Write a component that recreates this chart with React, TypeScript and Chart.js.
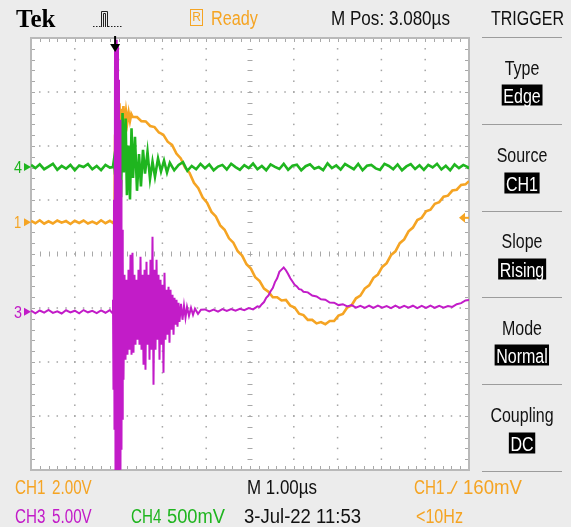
import React, { useEffect, useRef } from "react";
import { Chart, registerables } from "chart.js";

Chart.register(...registerables);

// Horizontal window: 1.00 µs/div, 10 divisions, centre at M Pos 3.080 µs after the trigger
const TIME_MIN = -1.92;
const TIME_MAX = 8.08;

// Vertical settings per channel: volts per division and ground position in divisions from centre
const CH1_SCALE = 2.0;
const CH1_OFFSET = 0.59;
const CH3_SCALE = 5.0;
const CH3_OFFSET = -1.07;
const CH4_SCALE = 0.5;
const CH4_OFFSET = 1.61;
const TRIGGER_LEVEL = 0.16; // volts on CH1

// CH1 (orange)
const ch1Time = [
  -1.92, -1.82, -1.72, -1.62, -1.52, -1.42, -1.32, -1.22, -1.12, -1.02, -0.92, -0.82, -0.72, -0.62, -0.52, -0.42, -0.32, -0.22, -0.12,
  -0.05, -0.02, -0.01, 0, 0.01, 0.025, 0.04, 0.055, 0.07, 0.085, 0.1, 0.12, 0.14, 0.16, 0.19, 0.22, 0.25, 0.28, 0.31, 0.34, 0.37,
  0.4, 0.5, 0.6, 0.7, 0.8, 0.9, 1.0, 1.1, 1.2, 1.3, 1.4, 1.5, 1.6, 1.7, 1.8, 1.9, 2.0, 2.1, 2.2, 2.3, 2.4, 2.5, 2.6, 2.7, 2.8, 2.9,
  3.0, 3.1, 3.2, 3.3, 3.4, 3.5, 3.6, 3.7, 3.8, 3.9, 4.0, 4.1, 4.2, 4.3, 4.4, 4.5, 4.6, 4.7, 4.8, 4.9, 5.0, 5.1, 5.2, 5.3, 5.4, 5.5,
  5.6, 5.7, 5.8, 5.9, 6.0, 6.1, 6.2, 6.3, 6.4, 6.5, 6.6, 6.7, 6.8, 6.9, 7.0, 7.1, 7.2, 7.3, 7.4, 7.5, 7.6, 7.7, 7.8, 7.9, 8.0, 8.08,
];
const ch1Volts = [
  0.05, -0.04, 0.07, -0.06, 0.03, -0.05, 0.06, -0.02, 0.04, -0.07, 0.05, -0.03, 0.06, -0.05, 0.02, -0.06, 0.07, -0.04, 0.05,
  -0.03, 0.06, 0.9, 3.2, 4.6, 3.5, 4.5, 3.3, 4.3, 3.2, 4.4, 3.4, 4.2, 3.5, 4.3, 3.6, 4.1, 3.7, 4.05, 3.75, 4.0,
  3.9, 3.89, 3.74, 3.73, 3.56, 3.52, 3.32, 3.24, 2.98, 2.86, 2.54, 2.36, 2.01, 1.82, 1.46, 1.26, 0.91, 0.72, 0.38, 0.21, -0.12, -0.28, -0.6, -0.76, -1.08, -1.24,
  -1.56, -1.72, -2.04, -2.18, -2.46, -2.58, -2.78, -2.78, -2.9, -2.88, -3.09, -3.16, -3.39, -3.44, -3.62, -3.62, -3.75, -3.7, -3.78, -3.66, -3.66, -3.46, -3.4, -3.16, -3.08, -2.82,
  -2.72, -2.46, -2.34, -2.06, -1.94, -1.66, -1.52, -1.22, -1.08, -0.78, -0.64, -0.34, -0.2, 0.08, 0.16, 0.4, 0.46, 0.68, 0.74, 0.94, 0.98, 1.17, 1.2, 1.38, 1.4, 1.52,
];

// CH4 (green)
const ch4Time = [
  -1.92, -1.82, -1.72, -1.62, -1.52, -1.42, -1.32, -1.22, -1.12, -1.02, -0.92, -0.82, -0.72, -0.62, -0.52, -0.42, -0.32, -0.22, -0.12,
  -0.05, -0.025, 0, 0.03, 0.065, 0.1, 0.135, 0.17, 0.2, 0.24, 0.27, 0.305, 0.34, 0.375, 0.41, 0.454, 0.5, 0.546, 0.59, 0.637, 0.683,
  0.74, 0.797, 0.854, 0.91, 0.98, 1.048, 1.117, 1.185,
  1.25, 1.35, 1.45, 1.55, 1.65, 1.75, 1.85, 1.95, 2.05, 2.15, 2.25, 2.35, 2.45, 2.55, 2.65, 2.75, 2.85, 2.95, 3.05, 3.15, 3.25, 3.35,
  3.45, 3.55, 3.65, 3.75, 3.85, 3.95, 4.05, 4.15, 4.25, 4.35, 4.45, 4.55, 4.65, 4.75, 4.85, 4.95, 5.05, 5.15, 5.25, 5.35, 5.45, 5.55,
  5.65, 5.75, 5.85, 5.95, 6.05, 6.15, 6.25, 6.35, 6.45, 6.55, 6.65, 6.75, 6.85, 6.95, 7.05, 7.15, 7.25, 7.35, 7.45, 7.55, 7.65, 7.75,
  7.85, 7.95, 8.05, 8.08,
];
const ch4Volts = [
  0.02, -0.01, 0.025, -0.02, 0.005, 0.03, -0.025, 0.01, -0.015, 0.02, -0.03, 0.015, 0.0, 0.028, -0.02, 0.01, -0.028, 0.02, -0.005,
  0.0, 0.07, -0.07, 0.26, -0.12, 0.4, -0.28, 0.5, -0.05, 0.45, -0.26, 0.2, -0.3, 0.36, -0.1, 0.28, -0.22, 0.12, -0.18, 0.16, -0.06,
  0.14, -0.11, 0.05, -0.09, 0.08, -0.04, 0.06, -0.05,
  0.04, -0.03, 0.02, 0.045, -0.035, 0.01, -0.02, 0.03, -0.01, 0.025, -0.03, 0.005, 0.02, -0.022, 0.03, 0.0, -0.025, 0.018, -0.01, 0.032,
  -0.02, 0.01, -0.03, 0.024, 0.002, -0.018, 0.03, -0.026, 0.012, 0.022, -0.03, 0.008, 0.026, -0.015, 0.0, -0.028, 0.035, -0.01, 0.015, -0.024,
  0.028, 0.004, -0.02, 0.03, -0.03, 0.012, 0.02, -0.012, -0.026, 0.03, 0.01, -0.02, 0.024, -0.03, 0.006, 0.028, -0.018, 0.016, -0.026, 0.02,
  -0.004, 0.03, -0.022, 0.012, -0.03, 0.024, -0.01, 0.02, 0.0, -0.015,
];

// CH3 (magenta)
const ch3Time = [
  -1.92, -1.82, -1.72, -1.62, -1.52, -1.42, -1.32, -1.22, -1.12, -1.02, -0.92, -0.82, -0.72, -0.62, -0.52, -0.42, -0.32, -0.22, -0.12, -0.07,
  -0.048, -0.037, -0.025, -0.014, -0.002, 0.009, 0.021, 0.032, 0.043, 0.055, 0.066, 0.078, 0.089, 0.1, 0.112, 0.123, 0.135, 0.146, 0.158, 0.169,
  0.18, 0.192, 0.215, 0.238, 0.26, 0.283, 0.306, 0.329, 0.352, 0.375, 0.397, 0.42, 0.443, 0.466, 0.489, 0.512, 0.534, 0.557, 0.58, 0.603,
  0.626, 0.649, 0.672, 0.694, 0.717, 0.74, 0.763, 0.786, 0.808, 0.831, 0.854, 0.877, 0.9, 0.923, 0.946, 0.968, 0.991, 1.014, 1.037, 1.06,
  1.082, 1.105, 1.128, 1.151, 1.174, 1.197, 1.22, 1.242, 1.265, 1.288, 1.311, 1.334, 1.356, 1.379, 1.402, 1.425, 1.448, 1.47, 1.505, 1.539,
  1.573, 1.607, 1.642, 1.687, 1.733, 1.779, 1.824, 1.893, 1.961,
  2.05, 2.15, 2.25, 2.35, 2.45, 2.55, 2.65, 2.75, 2.85, 2.95, 3.05, 3.15, 3.25, 3.3, 3.35, 3.4, 3.45, 3.5, 3.55, 3.6, 3.65, 3.7, 3.75,
  3.8, 3.85, 3.9, 3.95, 4.0, 4.05, 4.1, 4.15, 4.2, 4.25, 4.3, 4.4, 4.5, 4.6, 4.7, 4.8, 4.9, 5.0, 5.1, 5.2, 5.3, 5.4, 5.5, 5.6, 5.7,
  5.8, 5.9, 6.0, 6.1, 6.2, 6.3, 6.4, 6.5, 6.6, 6.7, 6.8, 6.9, 7.0, 7.1, 7.2, 7.3, 7.4, 7.5, 7.6, 7.7, 7.8, 7.9, 8.0, 8.08,
];
const ch3Volts = [
  0.1, -0.15, 0.12, -0.08, 0.18, -0.1, 0.05, -0.16, 0.14, -0.06, 0.1, -0.14, 0.16, -0.05, 0.08, -0.12, 0.12, -0.09, 0.15, -0.1,
  1.11, -7.22, 10.37, -10.93, 24.72, -15.56, 25.19, -15.56, 23.34, -15.56, 24.72, -15.56, 21.48, -15.56, 17.78, -14.63, 12.22, -12.78, 7.59, -10.0,
  4.82, -6.3, 3.43, -4.44, 2.96, -3.98, 3.89, -3.52, 5.28, -3.98, 5.46, -3.8, 3.43, -3.06, 2.96, -2.59, 3.89, -3.06, 5.09, -3.52,
  3.43, -4.91, 3.89, -5.37, 4.63, -3.06, 3.43, -4.44, 4.82, -3.52, 6.95, -6.76, 3.89, -3.52, 4.82, -2.59, 3.43, -4.44, 2.96, -3.06,
  2.5, -5.65, 3.61, -2.59, 2.04, -2.13, 2.32, -2.87, 2.04, -1.67, 1.57, -2.13, 1.3, -1.2, 1.11, -1.39, 0.83, -0.93, 0.74, -0.74,
  0.56, -0.56, 0.46, -0.37, 0.37, -0.28, 0.28, -0.19, 0.19,
  0.22, 0.04, 0.2, 0.02, 0.24, 0.08, 0.26, 0.1, 0.28, 0.14, 0.34, 0.22, 0.5, 0.45, 0.7, 0.9, 1.3, 1.5, 1.9, 2.2, 2.75, 3.1, 3.7,
  3.9, 4.1, 3.85, 3.5, 3.1, 2.8, 2.5, 2.35, 2.1, 2.05, 1.85, 1.8, 1.5, 1.42, 1.15, 1.12, 0.86, 0.84, 0.62, 0.7, 0.5, 0.62, 0.38, 0.55, 0.35,
  0.56, 0.36, 0.58, 0.38, 0.52, 0.34, 0.57, 0.36, 0.55, 0.38, 0.56, 0.34, 0.54, 0.36, 0.58, 0.37, 0.55, 0.38, 0.54, 0.45, 0.7, 0.8, 1.05, 1.1,
];

const ORANGE = "#f5a423";
const GREEN = "#1fb51f";
const MAGENTA = "#c21cc8";

const FONT = '"Liberation Sans", Arimo, Arial, sans-serif';
const NARROW = 0.8; // default horizontal squeeze for the condensed lettering
const SQUEEZE_MIN = 0.76;
const SQUEEZE_MAX = 0.95;
const WIDTH = 571;
const HEIGHT = 527;
const PLOT = { left: 31, top: 38, right: 469, bottom: 470 };
const PANEL_LINES = [37, 124, 211, 297, 384, 471];

const divToPx = (d: number) => PLOT.top + (4 - d) * ((PLOT.bottom - PLOT.top) / 8);

function toPoints(times: number[], volts: number[], scale: number, offset: number) {
  return times.map((t, i) => ({ x: t, y: offset + volts[i] / scale }));
}

let measureCtx: CanvasRenderingContext2D | null = null;
function textWidth(text: string, font: string) {
  if (!measureCtx) measureCtx = document.createElement("canvas").getContext("2d");
  if (!measureCtx) return 1;
  measureCtx.font = font;
  return measureCtx.measureText(text).width || 1;
}

const graticule = {
  id: "graticule",
  beforeDatasetsDraw(chart: any) {
    const { ctx, chartArea: a } = chart;
    const dx = (a.right - a.left) / 10;
    const dy = (a.bottom - a.top) / 8;
    const cx = a.left + 5 * dx;
    const cy = a.top + 4 * dy;
    ctx.save();
    ctx.fillStyle = "#ffffff";
    ctx.fillRect(a.left, a.top, a.right - a.left, a.bottom - a.top);
    ctx.fillStyle = "#a4a4a4";
    for (let i = 1; i < 10; i++) {
      if (i === 5) continue;
      const x = a.left + i * dx;
      for (let j = 1; j < 40; j++) ctx.fillRect(x - 0.75, a.top + (j * dy) / 5 - 0.75, 1.5, 1.5);
    }
    for (let j = 1; j < 8; j++) {
      if (j === 4) continue;
      const y = a.top + j * dy;
      for (let i = 1; i < 50; i++) ctx.fillRect(a.left + (i * dx) / 5 - 0.75, y - 0.75, 1.5, 1.5);
    }
    ctx.strokeStyle = "#a8a8a8";
    ctx.lineWidth = 1;
    ctx.beginPath();
    for (let i = 1; i < 50; i++) {
      const x = Math.round(a.left + (i * dx) / 5) + 0.5;
      ctx.moveTo(x, cy - 2.5);
      ctx.lineTo(x, cy + 2.5);
      ctx.moveTo(x, a.top);
      ctx.lineTo(x, a.top + 4);
      ctx.moveTo(x, a.bottom - 4);
      ctx.lineTo(x, a.bottom);
    }
    for (let j = 1; j < 40; j++) {
      const y = Math.round(a.top + (j * dy) / 5) + 0.5;
      ctx.moveTo(cx - 2.5, y);
      ctx.lineTo(cx + 2.5, y);
      ctx.moveTo(a.left, y);
      ctx.lineTo(a.left + 4, y);
      ctx.moveTo(a.right - 4, y);
      ctx.lineTo(a.right, y);
    }
    ctx.stroke();
    ctx.strokeStyle = "#b9b9b9";
    ctx.lineWidth = 2;
    ctx.strokeRect(a.left, a.top, a.right - a.left, a.bottom - a.top);
    ctx.restore();
  },
  afterDatasetsDraw(chart: any) {
    const { ctx, chartArea: a, scales } = chart;
    ctx.save();
    // trigger position marker
    const tx = scales.x.getPixelForValue(0);
    ctx.fillStyle = "#000";
    ctx.strokeStyle = "#000";
    ctx.lineWidth = 2;
    ctx.beginPath();
    ctx.moveTo(tx, a.top - 2);
    ctx.lineTo(tx, a.top + 8);
    ctx.stroke();
    ctx.beginPath();
    ctx.moveTo(tx - 5, a.top + 6);
    ctx.lineTo(tx + 5, a.top + 6);
    ctx.lineTo(tx, a.top + 14);
    ctx.closePath();
    ctx.fill();
    // trigger level marker on CH1
    const ty = scales.y.getPixelForValue(CH1_OFFSET + TRIGGER_LEVEL / CH1_SCALE);
    ctx.fillStyle = ORANGE;
    ctx.strokeStyle = ORANGE;
    ctx.beginPath();
    ctx.moveTo(a.right - 10, ty);
    ctx.lineTo(a.right - 4, ty - 5);
    ctx.lineTo(a.right - 4, ty + 5);
    ctx.closePath();
    ctx.fill();
    ctx.beginPath();
    ctx.moveTo(a.right - 5, ty);
    ctx.lineTo(a.right, ty);
    ctx.stroke();
    ctx.restore();
  },
  afterDraw(chart: any) {
    const { ctx, chartArea: a, scales } = chart;
    ctx.save();
    // channel ground arrows on the left edge
    const marks: [number, string][] = [
      [CH4_OFFSET, GREEN],
      [CH1_OFFSET, ORANGE],
      [CH3_OFFSET, MAGENTA],
    ];
    for (const [off, col] of marks) {
      const y = scales.y.getPixelForValue(off);
      ctx.fillStyle = col;
      ctx.beginPath();
      ctx.moveTo(a.left - 7, y - 4);
      ctx.lineTo(a.left, y);
      ctx.lineTo(a.left - 7, y + 4);
      ctx.closePath();
      ctx.fill();
    }
    // acquisition run icon in the header
    ctx.strokeStyle = "#222";
    ctx.lineWidth = 1;
    ctx.setLineDash([1.5, 1.5]);
    ctx.beginPath();
    ctx.moveTo(93, 26.5);
    ctx.lineTo(101, 26.5);
    ctx.moveTo(108, 26.5);
    ctx.lineTo(122, 26.5);
    ctx.stroke();
    ctx.setLineDash([]);
    ctx.beginPath();
    ctx.moveTo(101.5, 27);
    ctx.lineTo(101.5, 11.5);
    ctx.lineTo(107.5, 11.5);
    ctx.lineTo(107.5, 27);
    ctx.moveTo(103.5, 27);
    ctx.lineTo(103.5, 13.5);
    ctx.lineTo(105.5, 13.5);
    ctx.lineTo(105.5, 27);
    ctx.stroke();
    ctx.restore();
  },
};

type LabelProps = {
  x: number;
  y: number;
  text: string;
  c?: string;
  s?: number;
  w?: number; // width the lettering is squeezed towards
  center?: boolean;
  family?: string;
  bold?: boolean;
  box?: boolean;
};

function Label({ x, y, text, c = "#111", s = 20, w, center, family, bold, box }: LabelProps) {
  const fam = family ?? FONT;
  let squeeze = family ? 1 : NARROW;
  if (w) {
    const fit = w / textWidth(text, `${bold ? 700 : 400} ${s}px ${fam}`);
    squeeze = Math.min(SQUEEZE_MAX, Math.max(SQUEEZE_MIN, fit));
  }
  return (
    <div
      style={{
        position: "absolute",
        left: x,
        top: y,
        transform: center
          ? `translate(-50%, -50%) scaleX(${squeeze})`
          : `translateY(-50%) scaleX(${squeeze})`,
        transformOrigin: center ? "center center" : "left center",
        color: box ? "#fff" : c,
        background: box ? "#000" : "transparent",
        padding: box ? "1px 2px 0 2px" : 0,
        fontSize: s,
        fontFamily: fam,
        fontWeight: bold ? 700 : 400,
        lineHeight: 1,
        whiteSpace: "pre",
      }}
    >
      {text}
    </div>
  );
}

export default function App() {
  const canvasRef = useRef<HTMLCanvasElement | null>(null);

  useEffect(() => {
    const canvas = canvasRef.current;
    if (!canvas) return;
    const common = { pointRadius: 0, tension: 0, fill: false, clip: 0 };
    const chart = new Chart(canvas, {
      type: "line",
      data: {
        datasets: [
          { ...common, label: "CH3", data: toPoints(ch3Time, ch3Volts, CH3_SCALE, CH3_OFFSET), borderColor: MAGENTA, borderWidth: 2, order: 0 },
          { ...common, label: "CH4", data: toPoints(ch4Time, ch4Volts, CH4_SCALE, CH4_OFFSET), borderColor: GREEN, borderWidth: 2.6, order: 1 },
          { ...common, label: "CH1", data: toPoints(ch1Time, ch1Volts, CH1_SCALE, CH1_OFFSET), borderColor: ORANGE, borderWidth: 2.6, order: 2 },
        ],
      },
      options: {
        animation: false,
        responsive: false,
        maintainAspectRatio: false,
        devicePixelRatio: 1,
        parsing: false,
        normalized: true,
        events: [],
        layout: {
          padding: {
            left: PLOT.left,
            top: PLOT.top,
            right: WIDTH - PLOT.right,
            bottom: HEIGHT - PLOT.bottom,
          },
        },
        scales: {
          x: { type: "linear", min: TIME_MIN, max: TIME_MAX, display: false },
          y: { type: "linear", min: -4, max: 4, display: false },
        },
        plugins: { legend: { display: false }, tooltip: { enabled: false } },
      },
      plugins: [graticule],
    } as any);
    return () => chart.destroy();
  }, []);

  return (
    <div
      style={{
        position: "absolute",
        left: 0,
        top: 0,
        width: WIDTH,
        height: HEIGHT,
        background: "#ececec",
        overflow: "hidden",
      }}
    >
      <canvas ref={canvasRef} width={WIDTH} height={HEIGHT} style={{ position: "absolute", left: 0, top: 0 }} />

      {/* header */}
      <Label x={16} y={18} s={25} bold family='"Liberation Serif", "DejaVu Serif", serif' c="#000" text="Tek" />
      <div
        style={{
          position: "absolute",
          left: 190,
          top: 9,
          width: 11,
          height: 15,
          border: `1.5px solid ${ORANGE}`,
          color: ORANGE,
          fontFamily: FONT,
          fontSize: 12,
          lineHeight: "15px",
          textAlign: "center",
        }}
      >
        R
      </div>
      <Label x={211} y={18} c={ORANGE} w={47} text="Ready" />
      <Label x={331} y={18} w={119} text="M Pos: 3.080µs" />
      <Label x={491} y={18} w={73} text="TRIGGER" />

      {/* trigger menu panel */}
      {PANEL_LINES.map((y) => (
        <div key={y} style={{ position: "absolute", left: 482, top: y, width: 80, height: 1, background: "#9c9c9c" }} />
      ))}
      <Label x={522} y={68} center text="Type" />
      <Label x={522} y={95} center box text="Edge" />
      <Label x={522} y={155} center text="Source" />
      <Label x={522} y={183} center box text="CH1" />
      <Label x={522} y={241} center text="Slope" />
      <Label x={522} y={269} center box text="Rising" />
      <Label x={522} y={328} center text="Mode" />
      <Label x={522} y={355} center box text="Normal" />
      <Label x={522} y={415} center text="Coupling" />
      <Label x={522} y={443} center box text="DC" />

      {/* channel ground labels */}
      <Label x={14} y={divToPx(CH4_OFFSET)} s={17} w={8} c={GREEN} text="4" />
      <Label x={14} y={divToPx(CH1_OFFSET)} s={17} w={7} c={ORANGE} text="1" />
      <Label x={14} y={divToPx(CH3_OFFSET)} s={17} w={8} c={MAGENTA} text="3" />

      {/* status rows */}
      <Label x={15} y={487} c={ORANGE} w={26} text="CH1" />
      <Label x={52} y={487} c={ORANGE} w={38} text="2.00V" />
      <Label x={247} y={487} w={70} text="M 1.00µs" />
      <Label x={414} y={487} c={ORANGE} w={27} text="CH1" />
      <svg style={{ position: "absolute", left: 446, top: 479 }} width={14} height={16}>
        <polyline points="1,14 5,14 11,2" fill="none" stroke={ORANGE} strokeWidth={1.5} />
      </svg>
      <Label x={463} y={487} c={ORANGE} w={59} text="160mV" />

      <Label x={15} y={516} c={MAGENTA} w={26} text="CH3" />
      <Label x={52} y={516} c={MAGENTA} w={38} text="5.00V" />
      <Label x={131} y={516} c={GREEN} w={27} text="CH4" />
      <Label x={167} y={516} c={GREEN} w={58} text="500mV" />
      <Label x={244} y={516} w={117} text="3-Jul-22 11:53" />
      <Label x={416} y={516} c={ORANGE} w={47} text="<10Hz" />
    </div>
  );
}
